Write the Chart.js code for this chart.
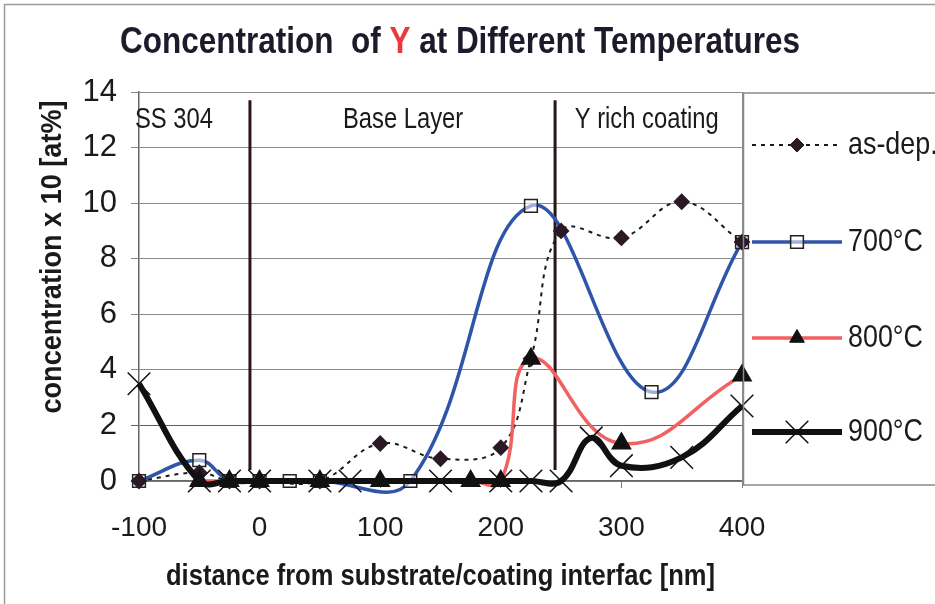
<!DOCTYPE html>
<html lang="en">
<head>
    <meta charset="UTF-8">
    <title>Concentration of Y at Different Temperatures</title>
    <script src="https://cdn.jsdelivr.net/npm/chart.js"></script>
    <style>
        body { margin: 0; background: #fff; }
    </style>
</head>
<body>
    <canvas id="myChart" width="935" height="604"></canvas>

    <script>
        // Data: distance in nm, concentration x 10 [at%]
        const asDepX = [-100, -50, -25, 0, 50, 100, 150, 200, 225, 250, 300, 350, 400];
        const asDepY = [0, 0.3, 0, 0, 0, 1.35, 0.8, 1.2, 4.4, 9.0, 8.75, 10.05, 8.6];

        const t700X = [-100, -50, -25, 0, 25, 50, 125, 225, 325, 400];
        const t700Y = [0, 0.75, 0, 0, 0, 0, 0, 9.9, 3.2, 8.6];

        const t800X = [-50, -25, 0, 50, 100, 175, 200, 225, 300, 400];
        const t800Y = [0, 0, 0, 0, 0, 0, 0, 4.4, 1.35, 3.8];

        const t900X = [-100, -50, -25, 0, 50, 75, 150, 200, 225, 250, 275, 300, 350, 400];
        const t900Y = [3.5, 0, 0, 0, 0, 0, 0, 0, 0, 0, 1.55, 0.55, 0.85, 2.7];

        const seriesNames = ['as-dep.', '700°C', '800°C', '900°C'];

        // layer boundaries and region captions
        const dividers = [-8, 245];
        const regionNames = ['SS 304', 'Base Layer', 'Y rich coating'];
        const regionX = [-100, 119, 321];

        const xTicks = [-100, 0, 100, 200, 300, 400];

        const SANS = "'Liberation Sans', Arial, sans-serif";

        const toPoints = (xs, ys) => xs.map((x, i) => ({ x: x, y: ys[i] }));

        const data = {
            datasets: [{
                label: seriesNames[0],
                data: toPoints(asDepX, asDepY),
                borderColor: '#1a1a1a',
                borderWidth: 2,
                borderDash: [4, 5],
                pointStyle: 'rectRot',
                pointRadius: 7,
                backgroundColor: '#2a1a26',
                pointBorderColor: '#2a1a26',
                tension: 0.4,
                clip: false,
                order: 2
            }, {
                label: seriesNames[1],
                data: toPoints(t700X, t700Y),
                borderColor: '#2f55a8',
                borderWidth: 3.5,
                pointStyle: 'rect',
                pointRadius: 9,
                pointBackgroundColor: 'rgba(255,255,255,0.55)',
                pointBorderColor: '#222',
                pointBorderWidth: 1.5,
                tension: 0.4,
                clip: false,
                order: 3
            }, {
                label: seriesNames[2],
                data: toPoints(t800X, t800Y),
                borderColor: '#f2605f',
                borderWidth: 3.5,
                pointStyle: 'triangle',
                pointRadius: 8.5,
                pointBackgroundColor: '#111',
                pointBorderColor: '#111',
                tension: 0.45,
                clip: false,
                order: 1
            }, {
                label: seriesNames[3],
                data: toPoints(t900X, t900Y),
                borderColor: '#111',
                borderWidth: 6,
                pointStyle: 'crossRot',
                pointRadius: 16,
                pointBorderColor: '#111',
                pointBorderWidth: 1.5,
                tension: 0.4,
                clip: false,
                order: 0
            }]
        };

        // Arial-Narrow look: draw Liberation Sans squeezed horizontally
        function narrow(ctx, text, x, y, factor) {
            const w = ctx.measureText(text).width * factor;
            ctx.fillText(text, x, y, w);
            return w;
        }

        // marker painter for the hand-drawn legend (same shapes as Chart.js)
        function marker(ctx, style, x, y, r, fill, stroke, lw) {
            ctx.save();
            ctx.fillStyle = fill;
            ctx.strokeStyle = stroke;
            ctx.lineWidth = lw;
            ctx.setLineDash([]);
            ctx.beginPath();
            if (style === 'rectRot') {
                ctx.moveTo(x, y - r); ctx.lineTo(x + r, y); ctx.lineTo(x, y + r); ctx.lineTo(x - r, y);
                ctx.closePath(); ctx.fill(); ctx.stroke();
            } else if (style === 'rect') {
                const s = r * Math.SQRT1_2;
                ctx.rect(x - s, y - s, 2 * s, 2 * s); ctx.fill(); ctx.stroke();
            } else if (style === 'triangle') {
                ctx.moveTo(x, y - r); ctx.lineTo(x + r * 0.866, y + r * 0.5); ctx.lineTo(x - r * 0.866, y + r * 0.5);
                ctx.closePath(); ctx.fill(); ctx.stroke();
            } else {
                const s = r * Math.SQRT1_2;
                ctx.moveTo(x - s, y - s); ctx.lineTo(x + s, y + s);
                ctx.moveTo(x + s, y - s); ctx.lineTo(x - s, y + s);
                ctx.stroke();
            }
            ctx.restore();
        }

        const decorations = {
            id: 'decorations',
            beforeDraw(chart) {
                const ctx = chart.ctx;
                ctx.save();
                ctx.fillStyle = '#fff';
                ctx.fillRect(0, 0, chart.width, chart.height);
                ctx.strokeStyle = '#9a9a9a';
                ctx.lineWidth = 1.5;
                ctx.strokeRect(4.5, 4.5, chart.width + 10, chart.height + 10);
                ctx.restore();
            },
            beforeDatasetsDraw(chart) {
                const ctx = chart.ctx;
                const xs = chart.scales.x, ys = chart.scales.y;
                const area = chart.chartArea;
                ctx.save();
                // plot frame, right side
                ctx.strokeStyle = '#8a8a8a';
                ctx.lineWidth = 1;
                ctx.beginPath();
                ctx.moveTo(area.right + 0.5, area.top);
                ctx.lineTo(area.right + 0.5, area.bottom);
                ctx.stroke();
                // layer boundaries
                ctx.strokeStyle = '#2a1418';
                ctx.lineWidth = 3;
                dividers.forEach(d => {
                    const px = xs.getPixelForValue(d);
                    ctx.beginPath();
                    ctx.moveTo(px, ys.getPixelForValue(13.7));
                    ctx.lineTo(px, ys.getPixelForValue(0.4));
                    ctx.stroke();
                });
                // region captions
                ctx.fillStyle = '#1a1a1a';
                ctx.font = '29px ' + SANS;
                ctx.textBaseline = 'middle';
                regionNames.forEach((name, i) => {
                    ctx.textAlign = i === 0 ? 'left' : 'center';
                    const px = xs.getPixelForValue(regionX[i]) + (i === 0 ? -4 : 0);
                    narrow(ctx, name, px, ys.getPixelForValue(13.0), 0.82);
                });
                ctx.restore();
            },
            afterDraw(chart) {
                const ctx = chart.ctx;
                const area = chart.chartArea;
                ctx.save();

                // title with red Y
                ctx.font = 'bold 36px ' + SANS;
                ctx.textBaseline = 'alphabetic';
                ctx.textAlign = 'left';
                const parts = [['Concentration  of ', '#1b1b2b'], ['Y', '#e83a3c'], [' at Different Temperatures', '#1b1b2b']];
                const full = parts.reduce((s, p) => s + ctx.measureText(p[0]).width, 0);
                const squeeze = 680 / full;
                let tx = 460 - 340;
                parts.forEach(p => {
                    ctx.fillStyle = p[1];
                    tx += narrow(ctx, p[0], tx, 53, squeeze);
                });

                // x axis title
                ctx.fillStyle = '#1a1a1a';
                ctx.font = 'bold 30px ' + SANS;
                ctx.textAlign = 'center';
                ctx.textBaseline = 'middle';
                ctx.fillText('distance from substrate/coating interfac [nm]', (area.left + area.right) / 2, 577, 549);

                // y axis title
                ctx.font = 'bold 30px ' + SANS;
                ctx.translate(53, 257);
                ctx.rotate(-Math.PI / 2);
                ctx.fillText('concentration x 10 [at%]', 0, 0, 313);
                ctx.setTransform(1, 0, 0, 1, 0, 0);

                // legend box
                ctx.strokeStyle = '#8a8a8a';
                ctx.lineWidth = 1.5;
                ctx.strokeRect(area.right + 1.5, area.top + 1, 300, 392);
                const rowY = [145, 242, 338, 432];
                chart.data.datasets.forEach((ds, i) => {
                    const y = rowY[i];
                    ctx.strokeStyle = ds.borderColor;
                    ctx.lineWidth = ds.borderWidth;
                    ctx.setLineDash(ds.borderDash || []);
                    ctx.beginPath();
                    ctx.moveTo(752, y);
                    ctx.lineTo(842, y);
                    ctx.stroke();
                    ctx.setLineDash([]);
                    const fill = ds.pointBackgroundColor || ds.backgroundColor || '#111';
                    marker(ctx, ds.pointStyle, 797, y, ds.pointRadius, fill, ds.pointBorderColor, ds.pointBorderWidth || 1);
                    ctx.fillStyle = '#1a1a1a';
                    ctx.font = '32px ' + SANS;
                    ctx.textAlign = 'left';
                    ctx.textBaseline = 'middle';
                    narrow(ctx, ds.label, 848, y, 0.84);
                });
                ctx.restore();
            }
        };

        const config = {
            type: 'line',
            data: data,
            options: {
                responsive: false,
                animation: false,
                devicePixelRatio: 1,
                elements: { line: { capBezierPoints: false } },
                layout: { padding: { top: 92, right: 193, left: 0, bottom: 0 } },
                plugins: {
                    legend: { display: false },
                    tooltip: { enabled: false },
                    title: { display: false }
                },
                scales: {
                    x: {
                        type: 'linear',
                        min: -100,
                        max: 400,
                        afterFit: scale => { scale.height = 123; },
                        afterBuildTicks: scale => { scale.ticks = xTicks.map(v => ({ value: v })); },
                        grid: { drawOnChartArea: false, drawTicks: true, tickLength: 7, color: '#777' },
                        border: { color: '#666', width: 1.5 },
                        ticks: {
                            color: '#1a1a1a',
                            padding: 23,
                            font: { family: SANS, size: 28 }
                        }
                    },
                    y: {
                        min: 0,
                        max: 14,
                        afterFit: scale => { scale.width = 139; },
                        grid: {
                            color: ctx => ctx.tick && ctx.tick.value === 2 ? '#4a5ab8' : '#8a8a8a',
                            lineWidth: 1,
                            tickLength: 8
                        },
                        border: { color: '#666', width: 1.5 },
                        ticks: {
                            stepSize: 2,
                            color: '#1a1a1a',
                            padding: 14,
                            font: { family: SANS, size: 31 }
                        }
                    }
                }
            },
            plugins: [decorations]
        };

        var myChart = new Chart(document.getElementById('myChart'), config);
    </script>
</body>
</html>
